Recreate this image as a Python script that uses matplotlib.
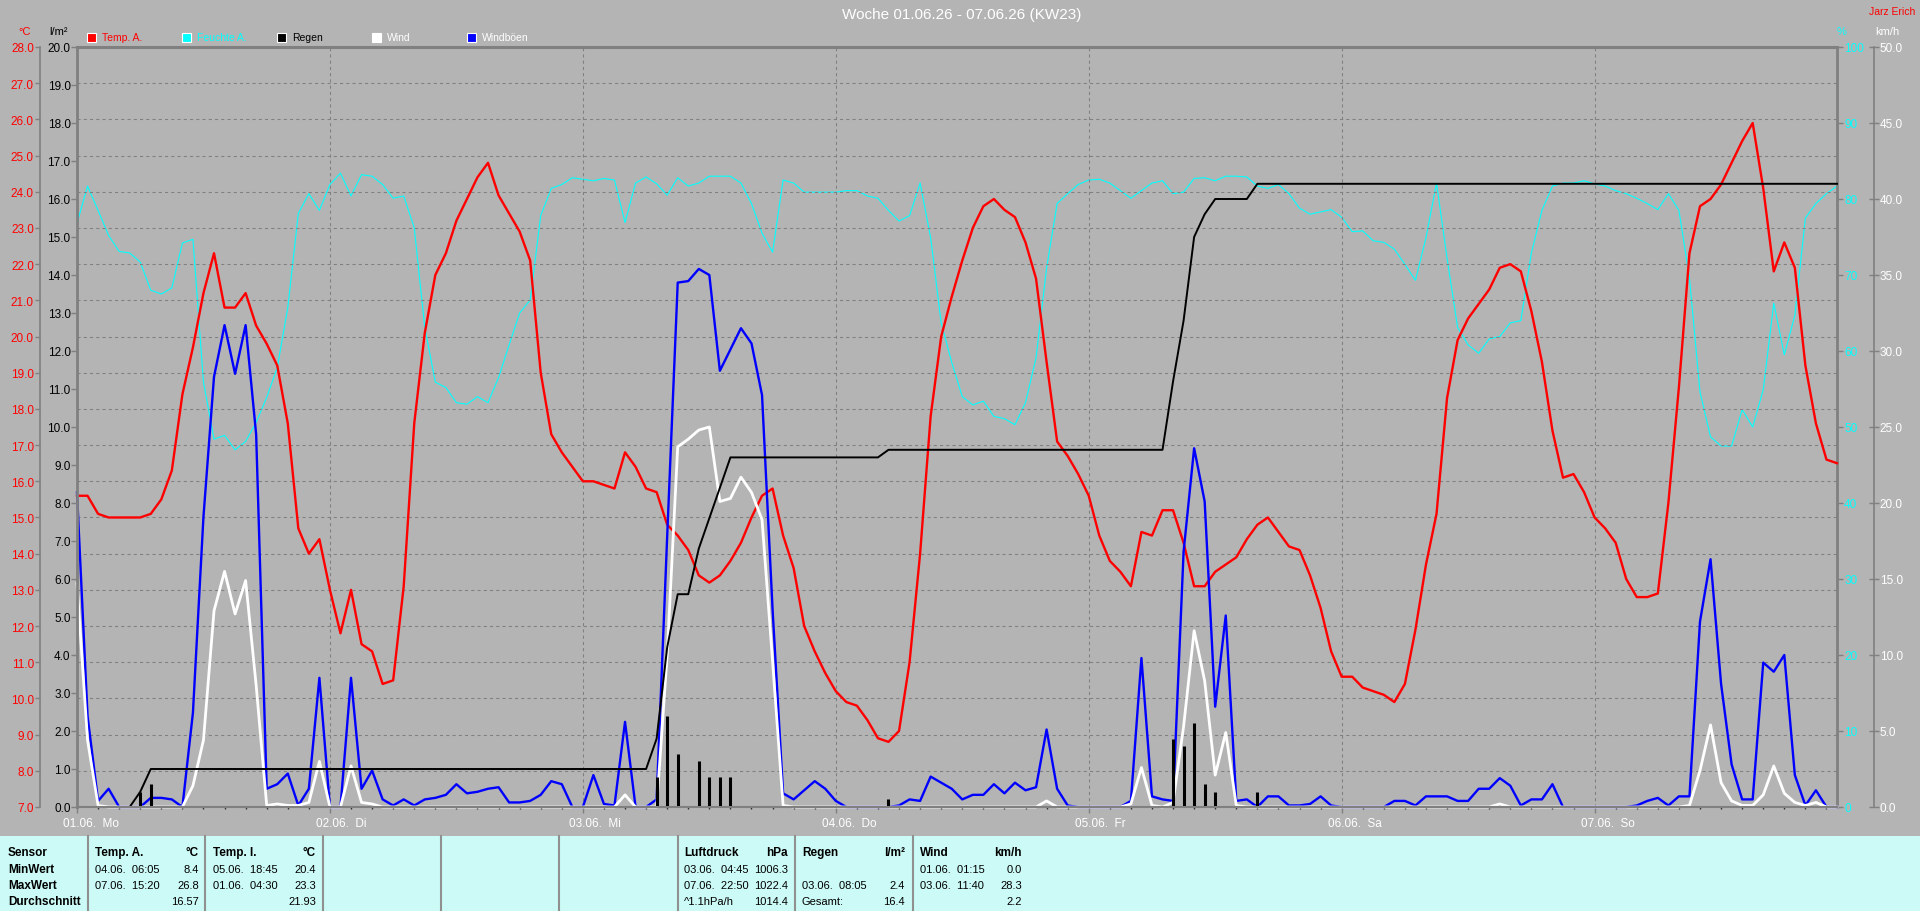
import numpy as np
import matplotlib.pyplot as plt
from matplotlib.patches import Rectangle
from matplotlib.lines import Line2D

plt.rcParams['font.family'] = ['Liberation Sans', 'DejaVu Sans']

W, H = 1920, 912
BG = '#b4b4b4'
GRID = '#808080'
TABLE_BG = '#ccfaf6'

# hourly values 01.06. 00:00 ... 07.06. 23:00
hours = np.arange(168)

temp_a = [15.6, 15.6, 15.1, 15.0, 15.0, 15.0, 15.0, 15.1, 15.5, 16.3, 18.4, 19.7,
          21.2, 22.3, 20.8, 20.8, 21.2, 20.3, 19.8, 19.2, 17.6, 14.7, 14.0, 14.4,
          13.0, 11.8, 13.0, 11.5, 11.3, 10.4, 10.5, 13.1, 17.6, 20.1, 21.7, 22.3,
          23.2, 23.8, 24.4, 24.8, 23.9, 23.4, 22.9, 22.1, 19.0, 17.3, 16.8, 16.4,
          16.0, 16.0, 15.9, 15.8, 16.8, 16.4, 15.8, 15.7, 14.8, 14.5, 14.1, 13.4,
          13.2, 13.4, 13.8, 14.3, 15.0, 15.6, 15.8, 14.5, 13.6, 12.0, 11.3, 10.7,
          10.2, 9.9, 9.8, 9.4, 8.9, 8.8, 9.1, 11.0, 14.0, 17.8, 20.0, 21.1,
          22.1, 23.0, 23.6, 23.8, 23.5, 23.3, 22.6, 21.6, 19.3, 17.1, 16.7, 16.2,
          15.6, 14.5, 13.8, 13.5, 13.1, 14.6, 14.5, 15.2, 15.2, 14.3, 13.1, 13.1,
          13.5, 13.7, 13.9, 14.4, 14.8, 15.0, 14.6, 14.2, 14.1, 13.4, 12.5, 11.3,
          10.6, 10.6, 10.3, 10.2, 10.1, 9.9, 10.4, 11.9, 13.7, 15.1, 18.3, 19.9,
          20.5, 20.9, 21.3, 21.9, 22.0, 21.8, 20.7, 19.3, 17.4, 16.1, 16.2, 15.7,
          15.0, 14.7, 14.3, 13.3, 12.8, 12.8, 12.9, 15.4, 18.6, 22.3, 23.6, 23.8,
          24.2, 24.8, 25.4, 25.9, 24.1, 21.8, 22.6, 21.9, 19.2, 17.6, 16.6, 16.5]

humidity = [76.8, 81.7, 78.5, 75.2, 73.1, 72.9, 71.7, 68.0, 67.5, 68.3, 74.2, 74.7,
            55.9, 48.4, 48.9, 47.0, 48.1, 50.6, 53.9, 57.8, 65.7, 78.1, 80.7, 78.5,
            81.9, 83.4, 80.4, 83.2, 83.0, 81.9, 80.1, 80.4, 76.2, 63.1, 55.9, 55.2,
            53.2, 53.0, 54.0, 53.2, 56.5, 60.8, 65.0, 66.7, 77.8, 81.4, 81.9, 82.8,
            82.6, 82.4, 82.7, 82.5, 76.9, 82.1, 82.9, 82.0, 80.5, 82.8, 81.7, 82.1,
            83.0, 83.0, 83.0, 82.1, 79.4, 75.5, 73.0, 82.5, 82.1, 80.9, 80.9, 80.9,
            80.9, 81.1, 81.1, 80.4, 80.1, 78.5, 77.1, 77.8, 82.1, 74.9, 63.7, 58.5,
            54.0, 52.9, 53.4, 51.4, 51.1, 50.3, 53.2, 59.1, 70.9, 79.4, 80.7, 81.9,
            82.5, 82.6, 82.1, 81.1, 80.1, 81.1, 82.1, 82.4, 80.7, 80.9, 82.7, 82.8,
            82.4, 83.0, 83.0, 82.9, 81.7, 81.4, 81.9, 80.7, 78.8, 78.0, 78.3, 78.6,
            77.6, 75.7, 75.8, 74.5, 74.3, 73.4, 71.4, 69.3, 74.9, 82.1, 72.2, 63.1,
            60.8, 59.7, 61.6, 61.9, 63.7, 64.0, 72.9, 78.5, 81.7, 82.1, 82.1, 82.4,
            82.0, 81.7, 81.1, 80.7, 80.1, 79.4, 78.6, 80.7, 78.5, 69.6, 54.6, 48.7,
            47.5, 47.5, 52.3, 50.0, 54.9, 66.3, 59.5, 64.7, 77.5, 79.4, 80.7, 81.7]

gusts = [20.7, 6.0, 0.4, 1.2, 0, 0, 0, 0.6, 0.6, 0.5, 0, 6.2,
         19.1, 28.3, 31.7, 28.5, 31.7, 24.5, 1.2, 1.5, 2.2, 0.1, 1.2, 8.5,
         0, 0, 8.5, 1.2, 2.4, 0.5, 0.1, 0.5, 0.1, 0.5, 0.6, 0.8,
         1.5, 0.9, 1.0, 1.2, 1.3, 0.3, 0.3, 0.4, 0.8, 1.7, 1.5, 0,
         0, 2.1, 0.2, 0.1, 5.6, 0, 0, 0.5, 17.8, 34.5, 34.6, 35.4,
         35.0, 28.7, 30.1, 31.5, 30.5, 27.1, 13.0, 0.9, 0.5, 1.1, 1.7, 1.2,
         0.4, 0, 0, 0, 0, 0, 0.1, 0.5, 0.4, 2.0, 1.6, 1.2,
         0.5, 0.8, 0.8, 1.5, 0.9, 1.6, 1.1, 1.3, 5.1, 1.2, 0.1, 0,
         0, 0, 0, 0, 0.4, 9.8, 0.7, 0.5, 0.4, 16.8, 23.6, 20.1,
         6.6, 12.6, 0.4, 0.5, 0, 0.7, 0.7, 0.1, 0.1, 0.2, 0.7, 0.1,
         0, 0, 0, 0, 0, 0.4, 0.4, 0.1, 0.7, 0.7, 0.7, 0.4,
         0.4, 1.2, 1.2, 1.9, 1.4, 0.1, 0.5, 0.5, 1.5, 0, 0, 0,
         0, 0, 0, 0, 0.1, 0.4, 0.6, 0.1, 0.7, 0.7, 12.2, 16.3,
         8.1, 2.8, 0.5, 0.5, 9.5, 8.9, 10.0, 2.1, 0.1, 1.1, 0, 0]

wind = [14.7, 4.4, 0.1, 0, 0, 0, 0, 0, 0, 0, 0, 1.4,
        4.4, 12.9, 15.5, 12.7, 14.9, 8.0, 0.1, 0.2, 0.1, 0.1, 0.3, 3.0,
        0, 0, 2.7, 0.3, 0.2, 0, 0, 0, 0, 0, 0, 0,
        0, 0, 0, 0, 0, 0, 0, 0, 0, 0, 0, 0,
        0, 0, 0, 0, 0.8, 0, 0, 0, 10.0, 23.7, 24.2, 24.8,
        25.0, 20.1, 20.3, 21.7, 20.7, 18.9, 9.6, 0.1, 0, 0, 0, 0,
        0, 0, 0, 0, 0, 0, 0, 0, 0, 0, 0, 0,
        0, 0, 0, 0, 0, 0, 0, 0, 0.4, 0, 0, 0,
        0, 0, 0, 0, 0.2, 2.6, 0.1, 0, 0.3, 5.3, 11.6, 8.3,
        2.1, 4.9, 0.1, 0, 0, 0, 0, 0, 0, 0, 0, 0,
        0, 0, 0, 0, 0, 0, 0, 0, 0, 0, 0, 0,
        0, 0, 0, 0.2, 0, 0, 0, 0, 0, 0, 0, 0,
        0, 0, 0, 0, 0, 0, 0, 0, 0, 0.1, 2.4, 5.4,
        1.6, 0.4, 0.1, 0.1, 0.8, 2.7, 0.9, 0.3, 0.1, 0.3, 0, 0]

# rain per hour (only hours with rain)
rain_hours = [6, 7, 55, 56, 57, 59, 60, 61, 62, 77, 104, 105, 106, 107, 108, 112]
rain_amounts = [0.4, 0.6, 0.8, 2.4, 1.4, 1.2, 0.8, 0.8, 0.8, 0.2, 1.8, 1.6, 2.2, 0.6, 0.4, 0.4]

rain_hourly = np.zeros(len(hours))
rain_hourly[rain_hours] = rain_amounts
rain_total = np.cumsum(rain_hourly)

day_labels = ['01.06.  Mo', '02.06.  Di', '03.06.  Mi', '04.06.  Do',
              '05.06.  Fr', '06.06.  Sa', '07.06.  So']

# summary table below the chart
table_cols = [
    (95, 199, [('Temp. A.', '°C'), ('04.06.  06:05', '8.4'), ('07.06.  15:20', '26.8'), ('', '16.57')]),
    (213, 316, [('Temp. I.', '°C'), ('05.06.  18:45', '20.4'), ('01.06.  04:30', '23.3'), ('', '21.93')]),
    (684, 788, [('Luftdruck', 'hPa'), ('03.06.  04:45', '1006.3'), ('07.06.  22:50', '1022.4'), ('^1.1hPa/h', '1014.4')]),
    (802, 905, [('Regen', 'l/m²'), ('', ''), ('03.06.  08:05', '2.4'), ('Gesamt:', '16.4')]),
    (920, 1022, [('Wind', 'km/h'), ('01.06.  01:15', '0.0'), ('03.06.  11:40', '28.3'), ('', '2.2')]),
]
row_names = ['Sensor', 'MinWert', 'MaxWert', 'Durchschnitt']


def fx(x):
    return x / W


def fy(y):
    return 1 - y / H


fig = plt.figure(figsize=(W / 100, H / 100), dpi=100, facecolor=BG)

# main axes = temperature, twins for humidity, wind and rain
ax_t = fig.add_axes([fx(77), fy(808), 1760 / W, 760 / H])
ax_h = ax_t.twinx()
ax_w = ax_t.twinx()
ax_r = ax_t.twinx()
for z, a in enumerate([ax_h, ax_t, ax_w, ax_r]):
    a.set_zorder(z + 1)
    a.patch.set_visible(False)
    for s in a.spines.values():
        s.set_visible(False)

ax_t.set_xlim(0, 167)
ax_t.set_ylim(7, 28)
ax_h.set_ylim(0, 100)
ax_w.set_ylim(0, 50)
ax_r.set_ylim(0, 20)

# grid
ax_t.set_yticks(np.arange(7, 29, 1))
ax_t.set_xticks(np.arange(0, 168, 24))
ax_t.set_xticks(np.arange(0, 168, 2), minor=True)
ax_t.grid(True, which='major', color=GRID, lw=0.75, ls=(0, (3, 3)))
ax_t.set_xticklabels([])
ax_t.tick_params(axis='x', which='major', length=4, width=1, color=GRID)
ax_t.tick_params(axis='x', which='minor', length=1.5, width=1, color='#303030')

# temperature axis (outer left)
ax_t.spines['left'].set_visible(True)
ax_t.spines['left'].set_position(('axes', -37 / 1760))
ax_t.spines['left'].set_color(GRID)
ax_t.spines['left'].set_linewidth(1.2)
ax_t.yaxis.set_major_formatter('{x:.1f}')
ax_t.tick_params(axis='y', color=GRID, labelcolor='red', length=3.6, width=1,
                 pad=0.8, labelsize=8.5)

# rain axis (inner left, frame)
ax_r.yaxis.tick_left()
ax_r.set_yticks(np.arange(0, 21, 1))
ax_r.yaxis.set_major_formatter('{x:.1f}')
ax_r.tick_params(axis='y', color=GRID, labelcolor='black', length=4.3, width=1,
                 pad=0.3, labelsize=8.5)
for side, lw in [('left', 2), ('top', 2.2), ('bottom', 1.5)]:
    ax_r.spines[side].set_visible(True)
    ax_r.spines[side].set_color(GRID)
    ax_r.spines[side].set_linewidth(lw)

# humidity axis (inner right, frame)
ax_h.set_yticks(np.arange(0, 101, 10))
ax_h.spines['right'].set_visible(True)
ax_h.spines['right'].set_color(GRID)
ax_h.spines['right'].set_linewidth(2)
ax_h.tick_params(axis='y', color=GRID, labelcolor='#00ffff', length=4.3, width=1,
                 pad=0.8, labelsize=8.5)

# wind axis (outer right)
ax_w.set_yticks(np.arange(0, 51, 5))
ax_w.yaxis.set_major_formatter('{x:.1f}')
ax_w.spines['right'].set_visible(True)
ax_w.spines['right'].set_position(('axes', 1797 / 1760))
ax_w.spines['right'].set_color(GRID)
ax_w.spines['right'].set_linewidth(1.2)
ax_w.tick_params(axis='y', direction='inout', color=GRID, labelcolor='white',
                 length=6.5, width=1, pad=0.8, labelsize=8.5)

# data
ax_h.plot(hours, humidity, color='#00ffff', lw=0.8, clip_on=False)
ax_t.plot(hours, temp_a, color='#ff0000', lw=1.7, clip_on=False)
ax_w.plot(hours, gusts, color='#0000ff', lw=1.7, clip_on=False)
ax_w.plot(hours, wind, color='white', lw=2.0, clip_on=False)
ax_r.vlines(rain_hours, 0, rain_amounts, color='black', lw=2.2)
ax_r.plot(hours, rain_total, color='black', lw=1.4, clip_on=False)

# day labels
for i, lab in enumerate(day_labels):
    ax_t.annotate(lab, xy=(24 * i, 0), xycoords=('data', 'axes fraction'),
                  xytext=(-14, -16), textcoords='offset pixels', ha='left',
                  va='center', color='white', fontsize=8.5)

# title and unit labels
fig.text(fx(962), fy(15), 'Woche 01.06.26 - 07.06.26 (KW23)', ha='center',
         va='center', color='white', fontsize=11)
fig.text(fx(1915), fy(12), 'Jarz Erich', ha='right', va='center', color='red', fontsize=7.5)
fig.text(fx(25), fy(32), '°C', ha='center', va='center', color='red', fontsize=8)
fig.text(fx(58), fy(32), 'l/m²', ha='center', va='center', color='black', fontsize=8)
fig.text(fx(1842), fy(32), '%', ha='center', va='center', color='#00ffff', fontsize=8)
fig.text(fx(1887), fy(32), 'km/h', ha='center', va='center', color='white', fontsize=8)

# legend
legend_items = [('Temp. A.', '#ff0000', '#ff0000'), ('Feuchte A.', '#00ffff', '#00ffff'),
                ('Regen', 'black', 'black'), ('Wind', 'white', 'white'),
                ('Windböen', '#0000ff', 'white')]
for i, (lab, col, tcol) in enumerate(legend_items):
    x0 = 87 + 95 * i
    fig.add_artist(Rectangle((fx(x0), fy(43)), 9 / W, 9 / H, transform=fig.transFigure,
                             facecolor=col, edgecolor='white', lw=0.8))
    fig.text(fx(x0 + 15), fy(38), lab, ha='left', va='center', color=tcol, fontsize=7.5)

# table
fig.add_artist(Rectangle((0, 0), 1, fy(837), transform=fig.transFigure,
                         facecolor=TABLE_BG, edgecolor='none'))
for x in [88, 205, 323, 441, 559, 678, 795, 913]:
    fig.add_artist(Line2D([fx(x), fx(x)], [0, fy(837)], transform=fig.transFigure,
                          color='#909090', lw=1.5))
row_y = [853, 870, 886, 902]
for name, y in zip(row_names, row_y):
    fig.text(fx(8), fy(y), name, ha='left', va='center', fontsize=8.5, fontweight='bold')
for left, right, rows in table_cols:
    for j, (a, b) in enumerate(rows):
        weight = 'bold' if j == 0 else 'normal'
        fig.text(fx(left), fy(row_y[j]), a, ha='left', va='center', fontsize=8.5 if j == 0 else 8,
                 fontweight=weight)
        fig.text(fx(right), fy(row_y[j]), b, ha='right', va='center', fontsize=8.5 if j == 0 else 8,
                 fontweight=weight)

fig.savefig('out.png', dpi=100, facecolor=BG)
